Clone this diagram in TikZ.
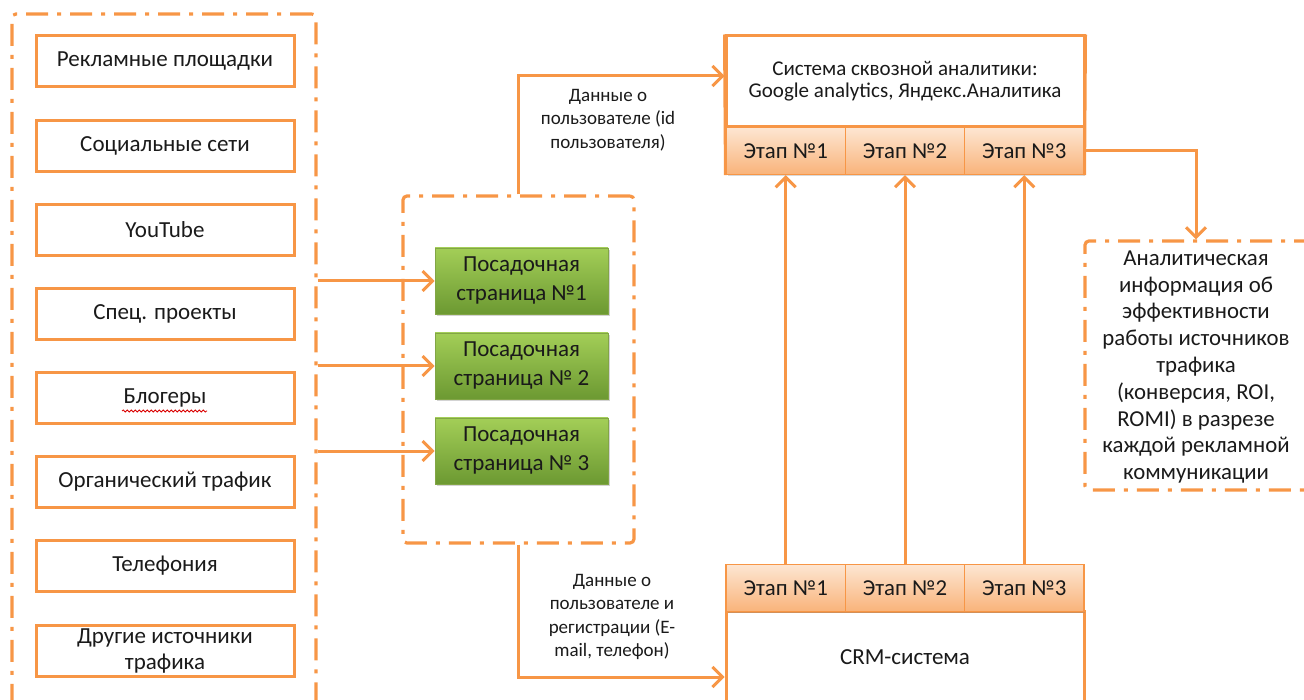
\documentclass[tikz,border=0pt]{standalone}
\usepackage{fontspec}
\setmainfont{Carlito}
\usetikzlibrary{arrows.meta,shadows,decorations.pathmorphing}
\definecolor{oranzh}{HTML}{F79646}
\definecolor{tekst}{HTML}{1A1A1A}
\definecolor{zelverh}{HTML}{A3CE57}
\definecolor{zelniz}{HTML}{6C9932}
\definecolor{etapverh}{HTML}{FDE6D2}
\definecolor{etapniz}{HTML}{F9B37A}
\begin{document}
\begin{tikzpicture}[
			x=1pt, y=-1pt,
			font=\fontsize{23}{27.5}\selectfont, text=tekst,
			ramka/.style={draw=oranzh, line width=3.2pt,
				dash pattern=on 22pt off 9pt on 4pt off 9pt,
				rounded corners=4pt, inner sep=0pt},
			istochnik/.style={draw=oranzh, line width=3pt,
				minimum width=258pt, minimum height=51pt,
				inner sep=0pt, align=center,
				font=\fontsize{23}{26}\selectfont},
			stranica/.style={draw=zelverh!80!black, line width=0.6pt,
				top color=zelverh, bottom color=zelniz,
				minimum width=173pt, minimum height=66pt,
				inner sep=0pt, align=center,
				font=\fontsize{23}{29}\selectfont,
				drop shadow={opacity=0.35, shadow xshift=2pt,
					shadow yshift=-2pt}},
			sistema/.style={draw=oranzh, line width=3pt, fill=white,
				minimum width=358pt, inner sep=0pt, align=center},
			etap/.style={draw=oranzh, line width=1.2pt,
				top color=etapverh, bottom color=etapniz,
				minimum width=119.3pt, minimum height=47pt,
				inner sep=0pt, font=\fontsize{22.8}{27}\selectfont,
				drop shadow={opacity=0.3, shadow xshift=1.5pt,
					shadow yshift=-1.5pt}},
			strelka/.style={draw=oranzh, line width=3pt,
				-{Straight Barb[length=10pt, width=20pt]}},
			podpis/.style={align=center, font=\fontsize{19}{23.5}\selectfont},
			]
			\clip (0,0) rectangle (1304,700);
			
			\node[ramka, minimum width=304pt, minimum height=706pt]
			(grpL) at (164, 367){};
			\node[istochnik] (ist1) at (165, 61.5){Рекламные площадки};
			\node[istochnik] (ist2) at (165,146){Социальные сети};
			\node[istochnik] (ist3) at (165,230){YouTube};
			\node[istochnik] (ist4) at (165,314){Спец. проекты};
			\node[istochnik] (ist5) at (165,398){Блогеры};
			\node[istochnik] (ist6) at (165,482){Органический трафик};
			\node[istochnik] (ist7) at (165,566){Телефония};
			\node[istochnik] (ist8) at (165,651){Другие источники\\трафика};
			\draw[red!85!black, line width=0.8pt, decorate,
			decoration={snake, amplitude=1pt, segment length=4pt}]
			(122,411)--(207,411);
			
			\node[ramka, minimum width=231pt, minimum height=347pt]
			(grpM) at (518.5, 369.5){};
			\node[stranica] (str1) at (521.5,281){Посадочная\\страница №1};
			\node[stranica] (str2) at (521.5,366){Посадочная\\страница № 2};
			\node[stranica] (str3) at (521.5,451){Посадочная\\страница № 3};
			\draw[strelka](grpL.east |- str1.west)--(str1.west);
			\draw[strelka](grpL.east |- str2.west)--(str2.west);
			\draw[strelka](grpL.east |- str3.west)--(str3.west);
			
			\node[sistema, minimum height=91pt,
			font=\fontsize{21}{22}\selectfont] (sa) at (905, 81.5)
			{Система сквозной аналитики:\\Google analytics, Яндекс.Аналитика};
			\node[etap] (e1) at (785.7,151){Этап №1};
			\node[etap] (e2) at (905,  151){Этап №2};
			\node[etap] (e3) at (1024.3,151){Этап №3};
			\draw[oranzh, line width=3pt](sa.north west)--(e1.south west);
			\draw[oranzh, line width=3pt](sa.north east)--(e3.south east);
			
			\node[sistema, minimum height=109pt] (crm) at (905, 665.5){};
			\node (crmtxt) at (905, 657){CRM-система};
			\node[etap] (c1) at (785.7,588){Этап №1};
			\node[etap] (c2) at (905,  588){Этап №2};
			\node[etap] (c3) at (1024.3,588){Этап №3};
			
			\draw[strelka](c1.north)--(e1.south);
			\draw[strelka](c2.north)--(e2.south);
			\draw[strelka](c3.north)--(e3.south);
			
			\draw[strelka](grpM.north) |- ([yshift=5.5pt]sa.west);
			\node[podpis] (dan1) at (608,120)
			{Данные о\\пользователе (id\\пользователя)};
			\draw[strelka](grpM.south) |- ([yshift=-11.5pt]crm.west);
			\node[podpis] (dan2) at (612,617)
			{Данные о\\пользователе и\\регистрации (E-\\mail, телефон)};
			
			\node[ramka, minimum width=235pt, minimum height=249pt]
			(grpR) at (1202.5, 365.5){};
			\node[align=center, font=\fontsize{22.8}{26.8}\selectfont]
			(info) at (1196, 367)
			{Аналитическая\\информация об\\эффективности\\работы источников\\трафика\\(конверсия, ROI,\\ROMI) в разрезе\\каждой рекламной\\коммуникации};
			\draw[strelka](e3.east) -| (info.north |- grpR.north);
		\end{tikzpicture}
\end{document}
